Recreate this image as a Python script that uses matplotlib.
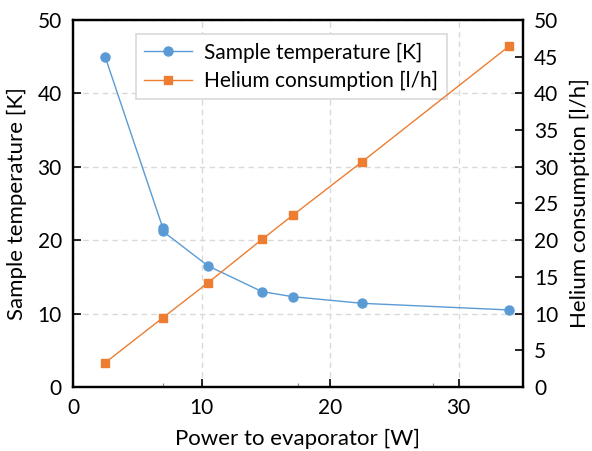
import matplotlib
matplotlib.use("Agg")
import matplotlib.pyplot as plt
from matplotlib.ticker import MultipleLocator, FixedLocator

plt.rcParams['font.family'] = ['Lato', 'DejaVu Sans']

# Data
power_temp = [2.5, 7.0, 7.0, 10.5, 14.7, 17.1, 22.5, 33.9]
sample_temp = [45.0, 21.6, 21.2, 16.5, 13.0, 12.3, 11.4, 10.5]
power_he = [2.5, 7.0, 10.5, 14.7, 17.1, 22.5, 33.9]
helium = [3.3, 9.45, 14.2, 20.1, 23.4, 30.7, 46.4]

blue = '#5B9BD5'
orange = '#ED7D31'

fig = plt.figure(figsize=(5.92, 4.51), dpi=100)
ax = fig.add_axes([0.1233, 0.1419, 0.76, 0.8138])
ax2 = ax.twinx()

l1, = ax.plot(power_temp, sample_temp, color=blue, lw=1, marker='o', ms=6.5,
              label='Sample temperature [K]')
l2, = ax2.plot(power_he, helium, color=orange, lw=1, marker='s', ms=6,
               label='Helium consumption [l/h]')

ax.set_xlim(0, 35)
ax.set_ylim(0, 50)
ax2.set_ylim(0, 50)
ax.xaxis.set_major_locator(MultipleLocator(10))
ax.xaxis.set_minor_locator(FixedLocator([7, 17.5, 28]))
ax.yaxis.set_major_locator(MultipleLocator(10))
ax2.yaxis.set_major_locator(MultipleLocator(5))

ax.grid(True, which='major', color='#d9d9d9', ls=(0, (4, 3)), lw=1)
ax.set_axisbelow(True)

for a in (ax, ax2):
    for s in a.spines.values():
        s.set_linewidth(1.6)
        s.set_color('black')

fs = 15
ax.tick_params(axis='both', which='major', direction='in', length=6, width=1.2,
               labelsize=fs, pad=8)
ax.tick_params(axis='x', which='minor', direction='in', length=3, width=0.8, color='#888888')
ax2.tick_params(axis='y', which='major', direction='in', length=6, width=1.2,
                labelsize=fs, pad=8)

ax.set_xlabel('Power to evaporator [W]', fontsize=16, labelpad=8)
ax.set_ylabel('Sample temperature [K]', fontsize=16, labelpad=8)
ax2.set_ylabel('Helium consumption [l/h]', fontsize=16, labelpad=8)

leg = ax.legend(handles=[l1, l2], loc='upper center', bbox_to_anchor=(0.485, 0.99),
                fontsize=15, frameon=True, fancybox=False, edgecolor='#d9d9d9',
                framealpha=1, handlelength=2.3, handletextpad=0.6,
                borderpad=0.4, labelspacing=0.4)
leg.get_frame().set_linewidth(1.2)

fig.savefig('out.png', dpi=100)
